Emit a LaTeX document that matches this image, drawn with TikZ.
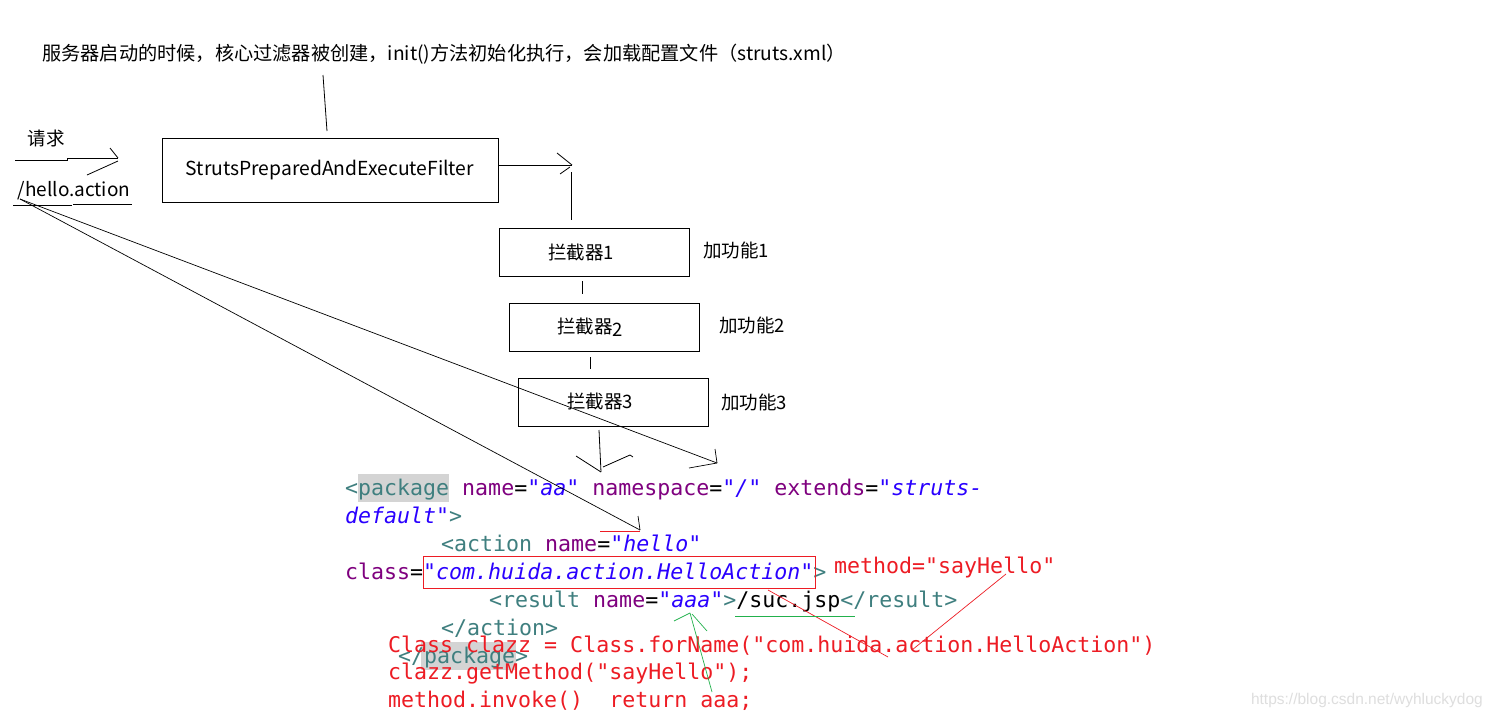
\documentclass[tikz,border=0pt]{standalone}
\usepackage{fontspec}
\setmainfont{Noto Sans CJK SC}
\setmonofont{DejaVu Sans Mono}
\newfontfamily\wmfont{Liberation Sans}
\definecolor{tagc}{RGB}{63,127,127}
\definecolor{attc}{RGB}{127,0,127}
\definecolor{valc}{RGB}{42,0,255}
\definecolor{redc}{RGB}{237,28,36}
\definecolor{grnc}{RGB}{34,177,76}
\definecolor{hlc}{RGB}{212,212,212}
\newcommand\xtg[1]{\textcolor{tagc}{#1}}
\newcommand\xat[1]{\textcolor{attc}{#1}}
\newcommand\xvl[1]{\textcolor{valc}{\itshape #1}}
\begin{document}
\begin{tikzpicture}[x=1pt,y=-1pt,
  lab/.style={inner sep=0pt, font=\fontsize{18.5}{22}\selectfont},
  boxnode/.style={draw, line width=1pt, inner sep=0pt, font=\fontsize{18.5}{22}\selectfont},
  hand/.style={line width=0.8pt},
  code/.style={anchor=base west, inner sep=0pt, font=\ttfamily\fontsize{21.6}{28}\selectfont},
  redcode/.style={code, text=redc},
]
\fill[white] (0,0) rectangle (1491,718);
\useasboundingbox (0,0) rectangle (1491,718);

% top text
\node[lab, anchor=base west, font=\fontsize{19.2}{22}\selectfont] (top) at (42,60)
  {服务器启动的时候，核心过滤器被创建，init()方法初始化执行，会加载配置文件（struts.xml）};
\coordinate (tk1) at (323,75);
\coordinate (tk2) at (327,131);
\draw[hand] (tk1) -- (tk2);

% request
\node[lab] (req) at (46,138) {请求};
\coordinate (r0) at (15,160);
\coordinate (r1) at (67,160);
\coordinate (r2) at (67,158);
\coordinate (r3) at (118,158);
\draw[hand] (r0) -- (r1) -- (r2) -- (r3);
\draw[hand] (110,148) -- (r3);
\draw[hand] (87,175) -- (118,161);
\node[lab, font=\fontsize{19}{22}\selectfont] (url) at (74,191) {/hello.action};
\draw[hand] (13,205) -- (72,205);
\draw[hand] (73,204) -- (132,204);

% filter
\node[boxnode, minimum width=336pt, minimum height=64pt, font=\fontsize{19.3}{22}\selectfont] (filter) at (330,170) {StrutsPreparedAndExecuteFilter};
\coordinate (fa) at (498,165);
\coordinate (fb) at (572,165);
\draw[hand] (fa) -- (fb);
\draw[hand] (557,153) -- (fb);
\draw[hand] (560,174) -- (570,167);
\coordinate (fc) at (571,172);
\coordinate (fd) at (571,220);
\draw[hand] (fc) -- (fd);

% interceptors
\node[boxnode, minimum width=190pt, minimum height=48pt] (b1) at (594,252) {};
\node[lab] (b1t) at (581,252) {拦截器1};
\node[lab, anchor=west] (f1) at (703,250) {加功能1};
\node[boxnode, minimum width=190pt, minimum height=48pt] (b2) at (604,327) {};
\node[lab] (b2t) at (590,327) {拦截器\raisebox{-3pt}{2}};
\node[lab, anchor=west] (f2) at (719,325) {加功能2};
\node[boxnode, minimum width=190pt, minimum height=48pt] (b3) at (613,402) {};
\node[lab] (b3t) at (600,401) {拦截器3};
\node[lab, anchor=west] (f3) at (721,402) {加功能3};
\draw[hand] (582,281) -- (582,294);
\draw[hand] (590,357) -- (590,369);
\coordinate (d0) at (599,430);
\coordinate (d1) at (601,472);
\draw[hand] (d0) -- (d1);
\draw[hand] (576,456) -- (d1);
\draw[hand] (603,467) -- (630,455) -- (633,457);

% code highlights
\fill[hlc] (358,474) rectangle (449,502);
\fill[hlc] (421,642) rectangle (516,670);

% code lines
\node[code] (c1) at (345,495) {\xtg{<package} \xat{name}=\xvl{"aa"} \xat{namespace}=\xvl{"/"} \xat{extends}=\xvl{"struts-}};
\node[code] (c2) at (345,523) {\xvl{default"}\xtg{>}};
\node[code] (c3) at (441,551) {\xtg{<action} \xat{name}=\xvl{"hello"}};
\node[code] (c4) at (345,579) {\xat{class}=\xvl{"com.huida.action.HelloAction"}\xtg{>}};
\node[code] (c5) at (489,607) {\xtg{<result} \xat{name}=\xvl{"aaa"}\xtg{>}/suc.jsp\xtg{</result>}};
\node[code] (c6) at (441,635) {\xtg{</action>}};
\node[code] (c7) at (398,663) {\xtg{</package>}};

% red annotations
\draw[redc, line width=1pt] (423,556) rectangle (815,588);
\node[redcode] (meth) at (834,573) {method="sayHello"};
\node[redcode] (r1t) at (388,652) {Class clazz = Class.forName("com.huida.action.HelloAction")};
\node[redcode] (r2t) at (388,679) {clazz.getMethod("sayHello");};
\node[redcode] (r3t) at (388,707) {method.invoke()\ \ return aaa;};
\draw[redc, line width=0.7pt] (768,590) -- (888,657);
\draw[redc, line width=0.7pt] (1006,574) -- (912,650);

% long hand lines from /hello.action
\coordinate (o) at (20,199);
\coordinate (ta) at (717,463);
\coordinate (tb) at (640,530);
\draw[line width=0.7pt] (o) -- (ta);
\draw[line width=0.7pt] (715,449) -- (ta);
\draw[line width=0.7pt] (689,468) -- (ta);
\draw[line width=0.7pt] (o) -- (tb);
\draw[line width=0.7pt] (638,516) -- (tb);
\draw[redc, line width=0.8pt] (600,531) -- (640,531);

% green
\draw[grnc, line width=0.8pt] (735,616) -- (855,616);
\coordinate (g0) at (712,692);
\coordinate (g1) at (690,613);
\draw[grnc, line width=0.7pt] (g0) -- (g1);
\draw[grnc, line width=0.7pt] (674,621) -- (g1);
\draw[grnc, line width=0.7pt] (692,614) -- (707,631);

% watermark
\node[anchor=east, inner sep=0pt, text=black!13, font=\wmfont\fontsize{15.5}{18}\selectfont] (wm) at (1483,700) {https://blog.csdn.net/wyhluckydog};
\end{tikzpicture}
\end{document}
